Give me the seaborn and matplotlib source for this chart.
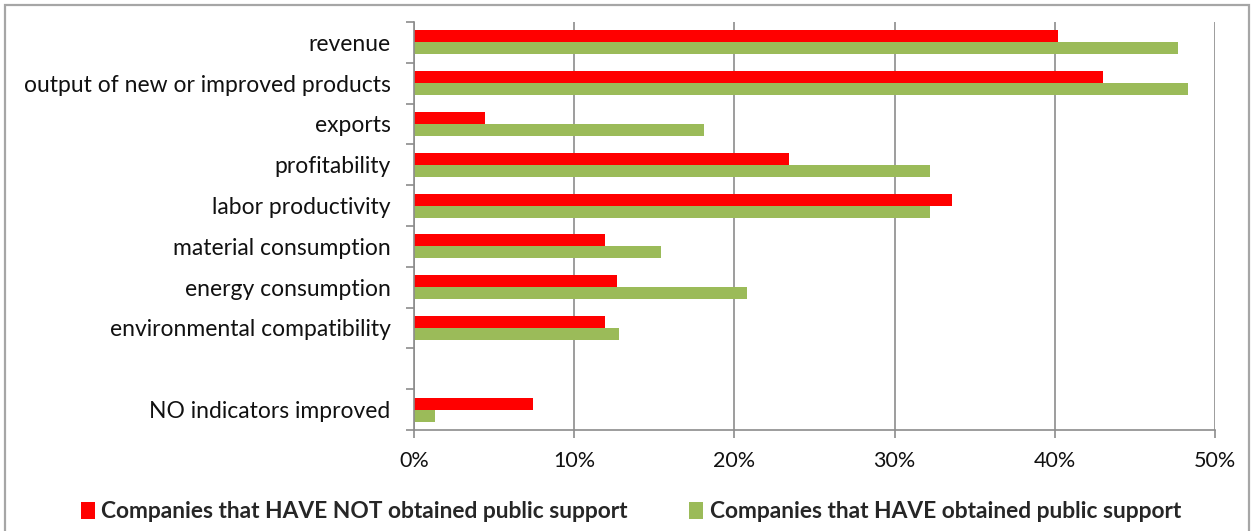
import numpy as np
import pandas as pd
import matplotlib
matplotlib.use("Agg")
import matplotlib.pyplot as plt
from matplotlib.patches import Patch, Rectangle
from matplotlib.ticker import FuncFormatter, FixedLocator
import seaborn as sns

categories = ["revenue", "output of new or improved products", "exports",
              "profitability", "labor productivity", "material consumption",
              "energy consumption", "environmental compatibility", " ",
              "NO indicators improved"]
not_supported = [40.2, 43.0, 4.45, 23.4, 33.6, 11.9, 12.7, 11.9, np.nan, 7.4]
supported = [47.7, 48.3, 18.1, 32.2, 32.2, 15.4, 20.8, 12.8, np.nan, 1.3]
series_names = ["Companies that HAVE NOT obtained public support",
                "Companies that HAVE obtained public support"]
colors = ["#FF0000", "#9BBB59"]
x_ticks = [0, 10, 20, 30, 40, 50]

df = pd.DataFrame({
    "indicator": categories * 2,
    "value": not_supported + supported,
    "group": [series_names[0]] * len(categories) + [series_names[1]] * len(categories),
})

sns.set_theme(style="white")
plt.rcParams["font.family"] = ["Lato", "DejaVu Sans"]

fig = plt.figure(figsize=(12.57, 5.31), dpi=100)
ax = fig.add_axes([414 / 1257, 1 - 430 / 531, (1215 - 414) / 1257, (430 - 22) / 531])

sns.barplot(data=df, y="indicator", x="value", hue="group", order=categories,
            hue_order=series_names, palette=colors, orient="h", width=0.59,
            ax=ax, legend=False, saturation=1, linewidth=0)

grid_c = "#8C8C8C"
ax.set_xlim(0, 50)
ax.set_ylim(len(categories) - 0.5, -0.5)
ax.xaxis.set_major_locator(FixedLocator(x_ticks))
ax.xaxis.set_major_formatter(FuncFormatter(lambda v, p: f"{v:.0f}%"))
ax.grid(axis="x", color=grid_c, linewidth=1.2)
ax.set_axisbelow(True)

ax.set_yticks(np.arange(-0.5, len(categories), 1))
ax.set_yticklabels([])
ax.set_yticks(np.arange(len(categories)), minor=True)
ax.set_yticklabels(categories, minor=True)
ax.tick_params(axis="y", which="major", length=6, width=1.2, color=grid_c, direction="out", left=True)
ax.tick_params(axis="y", which="minor", length=0, pad=17, labelsize=16.5, labelcolor="#111111")
ax.tick_params(axis="x", which="major", length=6, width=1.2, color=grid_c, direction="out",
               bottom=True, pad=9, labelsize=15.5, labelcolor="#111111")
ax.set_xlabel("")
ax.set_ylabel("")
for s in ["top", "right"]:
    ax.spines[s].set_visible(False)
for s in ["left", "bottom"]:
    ax.spines[s].set_color(grid_c)
    ax.spines[s].set_linewidth(1.2)

handles = [Patch(facecolor=c, edgecolor="none") for c in colors]
fig.legend(handles, series_names, loc="center", bbox_to_anchor=(0.502, 1 - 512 / 531),
           ncol=2, frameon=False, prop={"family": ["Lato", "DejaVu Sans"], "weight": "bold", "size": 16.4},
           handlelength=0.6, handleheight=0.8, handletextpad=0.3, columnspacing=2.7)

fig.patches.append(Rectangle((4.5 / 1257, -0.1), (1249 - 4.5) / 1257, 1.1 - 5 / 531,
                             transform=fig.transFigure, fill=False,
                             edgecolor="#A6A6A6", linewidth=1.6))

fig.savefig("out.png", dpi=100)
